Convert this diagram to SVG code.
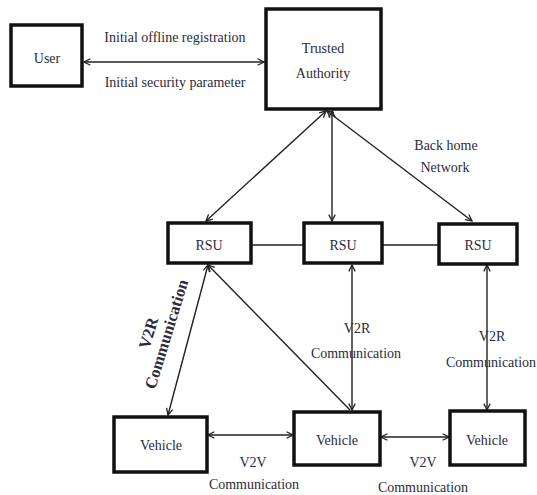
<svg xmlns="http://www.w3.org/2000/svg" width="537" height="495" viewBox="0 0 537 495">
<style>
.box{fill:#fff;stroke:#111;stroke-width:3.5}
.t{font-family:"Liberation Serif","Times New Roman",serif;font-size:14px;fill:#2b2b3a;text-anchor:middle}
.c{stroke:#222;stroke-width:1.4;fill:none}
.b{font-weight:bold;font-size:16.5px}
</style>
<defs>
<marker id="ah" viewBox="0 0 10 10" refX="9" refY="5" markerWidth="8" markerHeight="8" orient="auto-start-reverse" markerUnits="userSpaceOnUse">
<path d="M1,1 L9,5 L1,9" fill="none" stroke="#222" stroke-width="1.6"/>
</marker>
</defs>
<rect width="537" height="495" fill="#fff"/>
<g id="connectors">
<line class="c" x1="84" y1="62" x2="264" y2="62" marker-start="url(#ah)" marker-end="url(#ah)"/>
<line class="c" x1="326" y1="111" x2="206" y2="221" marker-start="url(#ah)" marker-end="url(#ah)"/>
<line class="c" x1="332" y1="111" x2="332" y2="221" marker-start="url(#ah)" marker-end="url(#ah)"/>
<line class="c" x1="327" y1="111" x2="472" y2="221" marker-start="url(#ah)" marker-end="url(#ah)"/>
<line class="c" x1="251" y1="245" x2="304" y2="245"/>
<line class="c" x1="382" y1="245" x2="439" y2="245"/>
<line class="c" x1="208" y1="265" x2="168" y2="415" marker-start="url(#ah)" marker-end="url(#ah)"/>
<line class="c" x1="208" y1="265" x2="350" y2="410" marker-start="url(#ah)"/>
<line class="c" x1="352" y1="265" x2="352" y2="410" marker-start="url(#ah)" marker-end="url(#ah)"/>
<line class="c" x1="487" y1="265" x2="487" y2="410" marker-start="url(#ah)" marker-end="url(#ah)"/>
<line class="c" x1="208" y1="435" x2="293" y2="435" marker-start="url(#ah)" marker-end="url(#ah)"/>
<line class="c" x1="381" y1="437" x2="449" y2="437" marker-start="url(#ah)" marker-end="url(#ah)"/>
</g>
<g id="labels">
<text class="t" x="175" y="42">Initial offline registration</text>
<text class="t" x="175" y="87">Initial security parameter</text>
<text class="t" x="446" y="150">Back home</text>
<text class="t" x="445" y="172">Network</text>
<text class="t b" transform="translate(148,333) rotate(-73)" y="6">V2R</text>
<text class="t b" transform="translate(166,334) rotate(-73)" y="6">Communication</text>
<text class="t" x="357" y="333">V2R</text>
<text class="t" x="356" y="358">Communication</text>
<text class="t" x="492" y="341">V2R</text>
<text class="t" x="491" y="367">Communication</text>
<text class="t" x="253" y="467">V2V</text>
<text class="t" x="254" y="489">Communication</text>
<text class="t" x="423" y="467">V2V</text>
<text class="t" x="423" y="492">Communication</text>
</g>
<g id="user"><rect class="box" x="11" y="25" width="71" height="61"/><text class="t" x="47" y="63">User</text></g>
<g id="ta"><rect class="box" x="266" y="9" width="115" height="100"/><text class="t" x="323" y="53">Trusted</text><text class="t" x="323" y="78">Authority</text></g>
<g id="rsu1"><rect class="box" x="168" y="223" width="83" height="40"/><text class="t" x="209" y="250">RSU</text></g>
<g id="rsu2"><rect class="box" x="304" y="223" width="78" height="40"/><text class="t" x="343" y="250">RSU</text></g>
<g id="rsu3"><rect class="box" x="439" y="224" width="78" height="40"/><text class="t" x="478" y="250">RSU</text></g>
<g id="vehicle1"><rect class="box" x="114" y="417" width="93" height="55"/><text class="t" x="161" y="450">Vehicle</text></g>
<g id="vehicle2"><rect class="box" x="294" y="412" width="86" height="53"/><text class="t" x="337" y="445">Vehicle</text></g>
<g id="vehicle3"><rect class="box" x="450" y="411" width="75" height="54"/><text class="t" x="487" y="445">Vehicle</text></g>
</svg>
